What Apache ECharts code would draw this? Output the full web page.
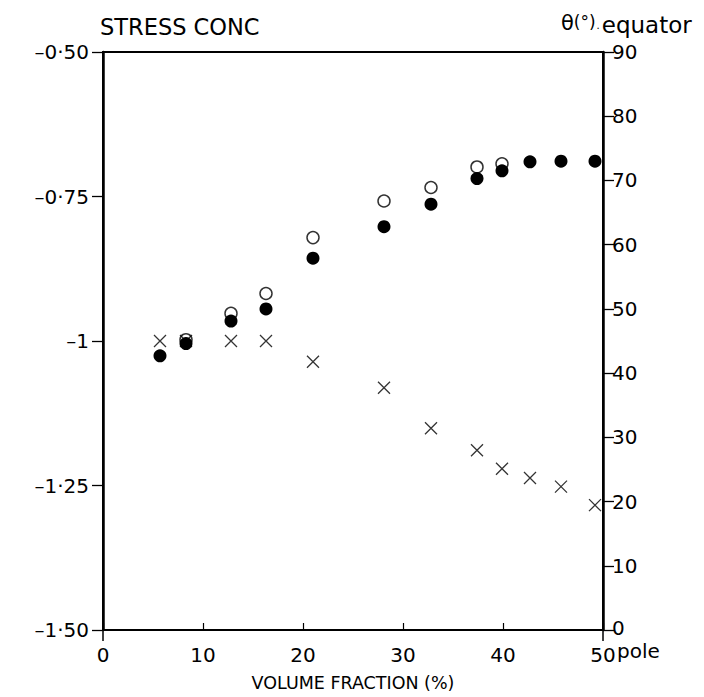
<!DOCTYPE html>
<html>
<head>
<meta charset="utf-8">
<script src="https://cdn.jsdelivr.net/npm/echarts@6/dist/echarts.min.js"></script>
<style>
  html, body { margin: 0; padding: 0; background: #fff; }
  #chart { width: 704px; height: 697px; }
</style>
</head>
<body>
<div id="chart"></div>
<script>
// Volume fraction (%) of each measured specimen
var volumeFraction = [5.7, 8.3, 12.8, 16.3, 21.0, 28.1, 32.8, 37.4, 39.9, 42.7, 45.8, 49.2];
// Stress concentration (left axis), crosses
var stressConc = [-1.0, -1.0, -1.0, -1.0, -1.036, -1.081, -1.151, -1.189, -1.221, -1.237, -1.252, -1.284];
// Angle theta in degrees (right axis), filled circles
var thetaFilled = [42.7, 44.6, 48.1, 50.0, 57.9, 62.8, 66.3, 70.3, 71.5, 72.9, 73.0, 73.0];
// Angle theta in degrees (right axis), open circles
var thetaOpen = [null, 45.2, 49.3, 52.4, 61.1, 66.8, 68.9, 72.1, 72.6, null, null, null];

// Tick labels for the stress-concentration axis
var stressTickValues = [-1.5, -1.25, -1.0, -0.75, -0.5];
var stressTickLabels = ['\u20131\u00b750', '\u20131\u00b725', '\u20131', '\u20130\u00b775', '\u20130\u00b750'];

var FONT = '"DejaVu Sans", sans-serif';

function pairs(xs, ys) {
  var out = [];
  for (var i = 0; i < xs.length; i++) {
    out.push([xs[i], ys[i]]);
  }
  return out;
}

var chart = echarts.init(document.getElementById('chart'), null, { renderer: 'svg' });

var crossPath = 'path://M0,0L10,10M10,0L0,10';

chart.setOption({
  animation: false,
  backgroundColor: '#ffffff',
  title: [
    {
      text: 'STRESS CONC',
      left: 95, top: 10,
      textStyle: { fontFamily: FONT, fontSize: 22.5, fontWeight: 'normal', color: '#000' }
    },
    {
      text: '{t|\u03b8}{s|(\u00b0)}{d|.}{e|equator}',
      left: 556, top: 8,
      textStyle: {
        fontFamily: FONT, fontSize: 20, fontWeight: 'normal', color: '#000',
        lineHeight: 24,
        rich: {
          t: { fontFamily: FONT, fontSize: 21, color: '#000', lineHeight: 24, padding: [0, 0, 4, 0] },
          s: { fontFamily: FONT, fontSize: 17, color: '#000', lineHeight: 24, padding: [0, 0, 6, 0] },
          d: { fontFamily: FONT, fontSize: 10, color: '#000', lineHeight: 24, padding: [0, 2, 0, 1] },
          e: { fontFamily: FONT, fontSize: 23, color: '#000', lineHeight: 24 }
        }
      }
    }
  ],
  grid: {
    left: 103, right: 101, top: 52, bottom: 64,
    show: true, borderColor: '#000', borderWidth: 2, backgroundColor: 'transparent'
  },
  xAxis: [
    {
      type: 'value', min: 0, max: 50, interval: 10, position: 'bottom',
      name: 'VOLUME FRACTION (%)', nameLocation: 'middle', nameGap: 44,
      nameTextStyle: { fontFamily: FONT, fontSize: 17.5, color: '#000' },
      axisLine: { show: true, onZero: false, lineStyle: { color: '#000', width: 2 } },
      axisTick: { show: true, inside: true, length: 7, lineStyle: { color: '#000', width: 1.2 } },
      axisLabel: { fontFamily: FONT, fontSize: 20, color: '#000', margin: 15 },
      splitLine: { show: false }
    },
    {
      type: 'value', min: 0, max: 50, interval: 50, position: 'bottom',
      axisLine: { show: false, onZero: false },
      axisTick: { show: true, inside: false, length: 11, lineStyle: { color: '#000', width: 1.5 } },
      axisLabel: { show: false },
      splitLine: { show: false }
    }
  ],
  yAxis: [
    {
      type: 'value', min: -1.5, max: -0.5, interval: 0.25, position: 'left',
      axisLine: { show: true, onZero: false, lineStyle: { color: '#000', width: 2.5 } },
      axisTick: { show: true, inside: false, length: 11, lineStyle: { color: '#010000', width: 1.3 } },
      axisLabel: {
        fontFamily: FONT, fontSize: 20, color: '#000', margin: 14,
        formatter: function (v) {
          for (var i = 0; i < stressTickValues.length; i++) {
            if (Math.abs(stressTickValues[i] - v) < 1e-6) return stressTickLabels[i];
          }
          return '';
        }
      },
      splitLine: { show: false }
    },
    {
      type: 'value', min: 0, max: 90, interval: 10, position: 'right',
      axisLine: { show: true, onZero: false, lineStyle: { color: '#000', width: 2.5 } },
      axisTick: { show: true, inside: false, length: 11, lineStyle: { color: '#000001', width: 1.3 } },
      axisLabel: {
        fontFamily: FONT, fontSize: 20, color: '#000', margin: 9,
        formatter: function (v) {
          if (v === 0) return '{z|0}\n{p|pole}';
          return String(v);
        },
        rich: {
          z: { fontFamily: FONT, fontSize: 20, color: '#000', lineHeight: 42 },
          p: { fontFamily: FONT, fontSize: 20, color: '#000', lineHeight: 4, padding: [0, 0, 0, 5] }
        }
      },
      splitLine: { show: false }
    }
  ],
  series: [
    {
      name: 'theta open',
      type: 'scatter', xAxisIndex: 0, yAxisIndex: 1, z: 2,
      symbol: 'circle', symbolSize: 12,
      itemStyle: { color: '#fff', borderColor: '#000', borderWidth: 1.5 },
      data: pairs(volumeFraction, thetaOpen)
    },
    {
      name: 'stress conc',
      type: 'scatter', xAxisIndex: 0, yAxisIndex: 0, z: 3,
      symbol: crossPath, symbolSize: 12,
      itemStyle: { color: 'none', borderColor: '#000', borderWidth: 1.3 },
      data: pairs(volumeFraction, stressConc)
    },
    {
      name: 'theta filled',
      type: 'scatter', xAxisIndex: 0, yAxisIndex: 1, z: 4,
      symbol: 'circle', symbolSize: 13,
      itemStyle: { color: '#000', borderWidth: 0, opacity: 1 },
      data: pairs(volumeFraction, thetaFilled)
    }
  ]
});
</script>
</body>
</html>
